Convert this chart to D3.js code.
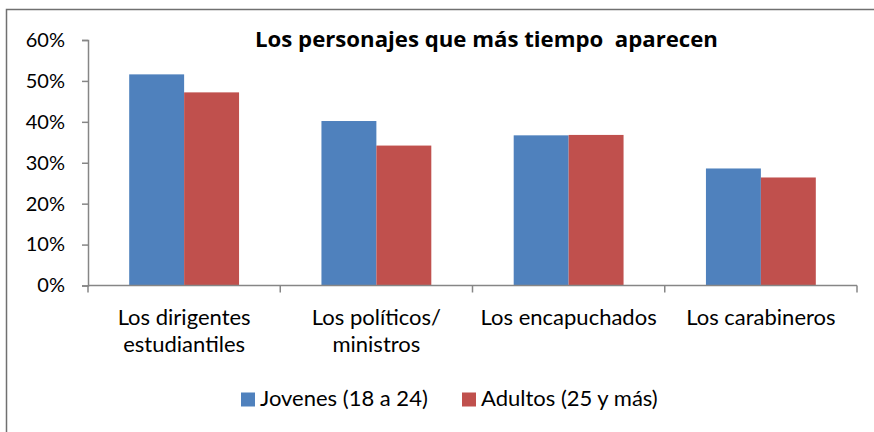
<!DOCTYPE html>
<html>
<head>
<meta charset="utf-8">
<script src="https://cdn.jsdelivr.net/npm/d3@7"></script>
<style>
  html, body { margin: 0; padding: 0; background: #fff; }
  svg { display: block; font-family: "Lato", "Liberation Sans", sans-serif; }
</style>
</head>
<body>
<svg id="chart" width="874" height="432"></svg>
<script>
const title = "Los personajes que más tiempo  aparecen";
const categories = [
  ["Los dirigentes", "estudiantiles"],
  ["Los políticos/", "ministros"],
  ["Los encapuchados"],
  ["Los carabineros"]
];
const seriesNames = ["Jovenes (18 a 24)", "Adultos (25 y más)"];
const jovenes = [0.516, 0.402, 0.367, 0.286];
const adultos = [0.472, 0.342, 0.368, 0.264];
const yTicks = [0, 0.1, 0.2, 0.3, 0.4, 0.5, 0.6];
const colors = ["#4F81BD", "#C0504D"];

const svg = d3.select("#chart");
const axisColor = "#868686";

// outer frame
svg.append("rect")
  .attr("x", 6.5).attr("y", 9.5)
  .attr("width", 900).attr("height", 500)
  .attr("fill", "none").attr("stroke", "#707070").attr("stroke-width", 1.5);

const catKeys = categories.map((c, i) => i);
const x = d3.scaleBand().domain(catKeys).range([88, 857]).padding(0);
const y = d3.scaleLinear().domain([0, 0.6]).range([285.5, 40]);
const barW = x.bandwidth() / 3.5;
const sub = d3.scaleBand().domain([0, 1]).range([0, 2 * barW]);

// title
svg.append("text")
  .attr("x", 486.5).attr("y", 47)
  .attr("text-anchor", "middle")
  .attr("font-family", "'Open Sans', sans-serif")
  .attr("font-weight", "bold")
  .attr("font-size", 22.2)
  .attr("fill", "#000")
  .style("white-space", "pre")
  .attr("xml:space", "preserve")
  .text(title);

// y axis
const yAxis = d3.axisLeft(y).tickValues(yTicks).tickSize(6).tickPadding(17)
  .tickFormat(d3.format(".0%"));
const gy = svg.append("g").attr("transform", "translate(88,0)").call(yAxis);
gy.select(".domain").attr("stroke", axisColor).attr("stroke-width", 1.5);
gy.selectAll(".tick line").attr("stroke", axisColor).attr("stroke-width", 1.5);
gy.selectAll(".tick text").attr("font-size", 20).attr("fill", "#000")
  .attr("font-family", "Lato, sans-serif");

// bars
const groups = svg.append("g").selectAll("g")
  .data(catKeys).join("g")
  .attr("transform", d => `translate(${x(d) + (x.bandwidth() - 2 * barW) / 2},0)`);
groups.selectAll("rect")
  .data(d => [jovenes[d], adultos[d]].map((v, s) => ({ v, s })))
  .join("rect")
  .attr("x", d => sub(d.s))
  .attr("width", barW)
  .attr("y", d => y(d.v))
  .attr("height", d => y(0) - y(d.v))
  .attr("fill", d => colors[d.s]);

// x axis
const xAxisLine = svg.append("g");
xAxisLine.append("line")
  .attr("x1", x.range()[0]).attr("x2", x.range()[1])
  .attr("y1", y(0)).attr("y2", y(0))
  .attr("stroke", axisColor).attr("stroke-width", 1.5);
const boundaries = catKeys.map(d => x(d)).concat([x.range()[1]]);
xAxisLine.selectAll("line.tk").data(boundaries).join("line")
  .attr("class", "tk")
  .attr("x1", d => d).attr("x2", d => d)
  .attr("y1", y(0)).attr("y2", y(0) + 7)
  .attr("stroke", axisColor).attr("stroke-width", 1.5);

// category labels
const lbl = svg.append("g").selectAll("text")
  .data(catKeys).join("text")
  .attr("x", d => x(d) + x.bandwidth() / 2)
  .attr("y", 325)
  .attr("text-anchor", "middle")
  .attr("font-size", 22)
  .attr("fill", "#000");
lbl.selectAll("tspan")
  .data(d => categories[d].map((t, i) => ({ t, i, d })))
  .join("tspan")
  .attr("x", d => x(d.d) + x.bandwidth() / 2)
  .attr("dy", d => d.i === 0 ? 0 : 26.5)
  .text(d => d.t);

// legend
const legendX = [241, 462];
const leg = svg.append("g").selectAll("g")
  .data(seriesNames).join("g")
  .attr("transform", (d, i) => `translate(${legendX[i]},392.5)`);
leg.append("rect").attr("width", 14).attr("height", 14)
  .attr("fill", (d, i) => colors[i]);
leg.append("text").attr("x", 19).attr("y", 13.5)
  .attr("font-size", 22).attr("fill", "#000").text(d => d);
</script>
</body>
</html>
